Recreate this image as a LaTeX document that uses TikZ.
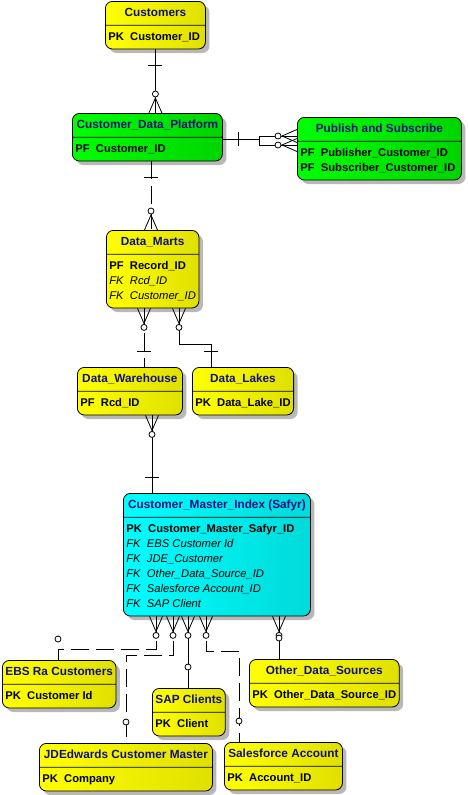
\documentclass[tikz,border=0pt]{standalone}
\usepackage{fontspec}
\setmainfont{Liberation Sans}
\usetikzlibrary{shapes.multipart,shadows,calc}

\definecolor{navy}{RGB}{16,16,130}
\definecolor{ylwA}{RGB}{255,255,0}
\definecolor{ylwB}{RGB}{224,224,0}
\definecolor{grnA}{RGB}{0,255,0}
\definecolor{grnB}{RGB}{0,212,0}
\definecolor{cynA}{RGB}{0,255,255}
\definecolor{cynB}{RGB}{0,218,218}

\begin{document}
\begin{tikzpicture}[x=1pt,y=-1pt,line width=0.8pt,
    entity/.style={rectangle split,rectangle split parts=2,rectangle split part align={center,left},
        draw,rounded corners=7pt,align=left,anchor=north west,inner xsep=3pt,inner ysep=4pt,
        font=\bfseries\fontsize{11.8}{15}\selectfont,text=navy,
        drop shadow={shadow xshift=4pt,shadow yshift=-4pt,fill=black!28,opacity=1}},
    every two node part/.style={font=\bfseries\fontsize{11.2}{15}\selectfont,text=black},
    ylw/.style={entity,left color=ylwA,right color=ylwB},
    grn/.style={entity,left color=grnA,right color=grnB},
    cyn/.style={entity,left color=cynA,right color=cynB},
    nonid/.style={dash pattern=on 18pt off 7pt},
    many/.pic={\draw (-6.5,0) -- (0,-15) -- (6.5,0); \draw[fill=white] (0,-19) circle (3pt);},
    one/.pic={\draw (-7,-16) -- (7,-16);},
    zero/.pic={\draw[fill=white] (0,-21) circle (3pt);}]

    \useasboundingbox (0,0) rectangle (467,795);

    % entities
    \node[ylw,minimum width=100] (cust) at (105,1) {\strut Customers \nodepart{two}\strut PK~~Customer\_ID};
    \node[grn,minimum width=150] (cdp) at (72,113) {\strut Customer\_Data\_Platform \nodepart{two}\strut PF~~Customer\_ID};
    \node[grn,minimum width=164] (pns) at (297,117) {\strut Publish and Subscribe \nodepart{two}\strut PF~~Publisher\_Customer\_ID\\ \strut PF~~Subscriber\_Customer\_ID};
    \node[ylw,minimum width=91] (dm) at (106,230) {\strut Data\_Marts \nodepart{two}\strut PF~~Record\_ID\\ \strut\textit{\mdseries FK~~Rcd\_ID}\\ \strut\textit{\mdseries FK~~Customer\_ID}};
    \node[ylw,minimum width=105] (dw) at (77,367) {\strut Data\_Warehouse \nodepart{two}\strut PF~~Rcd\_ID};
    \node[ylw,minimum width=97] (dl) at (192,367) {\strut Data\_Lakes \nodepart{two}\strut PK~~Data\_Lake\_ID};
    \node[cyn,minimum width=187] (cmi) at (123,493) {\strut Customer\_Master\_Index (Safyr) \nodepart{two}\strut PK~~Customer\_Master\_Safyr\_ID\\
        \strut\textit{\mdseries FK~~EBS Customer Id}\\ \strut\textit{\mdseries FK~~JDE\_Customer}\\ \strut\textit{\mdseries FK~~Other\_Data\_Source\_ID}\\
        \strut\textit{\mdseries FK~~Salesforce Account\_ID}\\ \strut\textit{\mdseries FK~~SAP Client}};
    \node[ylw,minimum width=112] (ebs) at (2,660) {\strut EBS Ra Customers \nodepart{two}\strut PK~~Customer Id};
    \node[ylw,minimum width=71] (sap) at (152,688) {\strut SAP Clients \nodepart{two}\strut PK~~Client};
    \node[ylw,minimum width=147] (ods) at (249,659) {\strut Other\_Data\_Sources \nodepart{two}\strut PK~~Other\_Data\_Source\_ID};
    \node[ylw,minimum width=173] (jde) at (39,743) {\strut JDEdwards Customer Master \nodepart{two}\strut PK~~Company};
    \node[ylw,minimum width=118] (sf) at (224,742) {\strut Salesforce Account \nodepart{two}\strut PK~~Account\_ID};

    % attach points
    \coordinate (cdp1) at ($(cdp.north east)+(0,26)$);
    \coordinate (pns1) at ($(pns.north west)+(0,19)$);
    \coordinate (pns2) at ($(pns.north west)+(0,28)$);
    \coordinate (dmtop) at ($(dm.north west)+(45,0)$);
    \coordinate (dm1) at ($(dm.south west)+(38,0)$);
    \coordinate (dm2) at ($(dm.south west)+(73,0)$);
    \coordinate (dltop) at ($(dl.north west)+(19,0)$);
    \coordinate (cmitop) at ($(cmi.north west)+(29,0)$);
    \coordinate (m1) at ($(cmi.south west)+(33,0)$);
    \coordinate (m2) at ($(cmi.south west)+(50,0)$);
    \coordinate (m3) at ($(cmi.south west)+(65,0)$);
    \coordinate (m4) at ($(cmi.south west)+(83,0)$);
    \coordinate (m5) at ($(cmi.south west)+(156,0)$);
    \coordinate (ebstop) at ($(ebs.north west)+(56,0)$);
    \coordinate (jdetop) at ($(jde.north west)+(87,0)$);
    \coordinate (sftop) at ($(sf.north west)+(15,0)$);

    % relationships
    \draw (cust.south) -- (cust.south |- cdp.north);
    \draw (cdp1) -- ++(37,0);
    \draw (pns1) -- ++(-38,0) -- ++(0,9) -- (pns2);
    \draw[nonid] (dmtop |- cdp.south) -- (dmtop);
    \draw[nonid] (dm1) -- (dm1 |- dw.north);
    \draw (dm2) -- ++(0,36) -| (dltop);
    \draw (cmitop |- dw.south) -- (cmitop);
    \draw[nonid] (m1) -- ++(0,33) -| (ebstop);
    \draw[nonid] (m2) -- ++(0,39) -| (jdetop);
    \draw (m3) -- (m3 |- sap.north);
    \draw[nonid] (m4) -- ++(0,35) -| (sftop);
    \draw (m5) -- (m5 |- ods.north);

    % ends
    \pic[rotate=180] at (cust.south) {one};
    \pic at (cust.south |- cdp.north) {many};
    \pic[rotate=-90] at (cdp1) {one};
    \pic[rotate=90] at (pns1) {many};
    \pic[rotate=90] at (pns2) {many};
    \pic[rotate=180] at (dmtop |- cdp.south) {one};
    \pic at (dmtop) {many};
    \pic[rotate=180] at (dm1) {many};
    \pic at (dm1 |- dw.north) {one};
    \pic[rotate=180] at (dm2) {many};
    \pic at (dltop) {one};
    \pic[rotate=180] at (cmitop |- dw.south) {many};
    \pic at (cmitop) {one};
    \pic[rotate=180] at (m1) {many};
    \pic[rotate=180] at (m2) {many};
    \pic[rotate=180] at (m3) {many};
    \pic[rotate=180] at (m4) {many};
    \pic[rotate=180] at (m5) {many};
    \pic at (ebstop) {zero};
    \pic at (jdetop) {zero};
    \pic at (m3 |- sap.north) {zero};
    \pic at (sftop) {zero};
    \pic at (m5 |- ods.north) {zero};
\end{tikzpicture}
\end{document}
